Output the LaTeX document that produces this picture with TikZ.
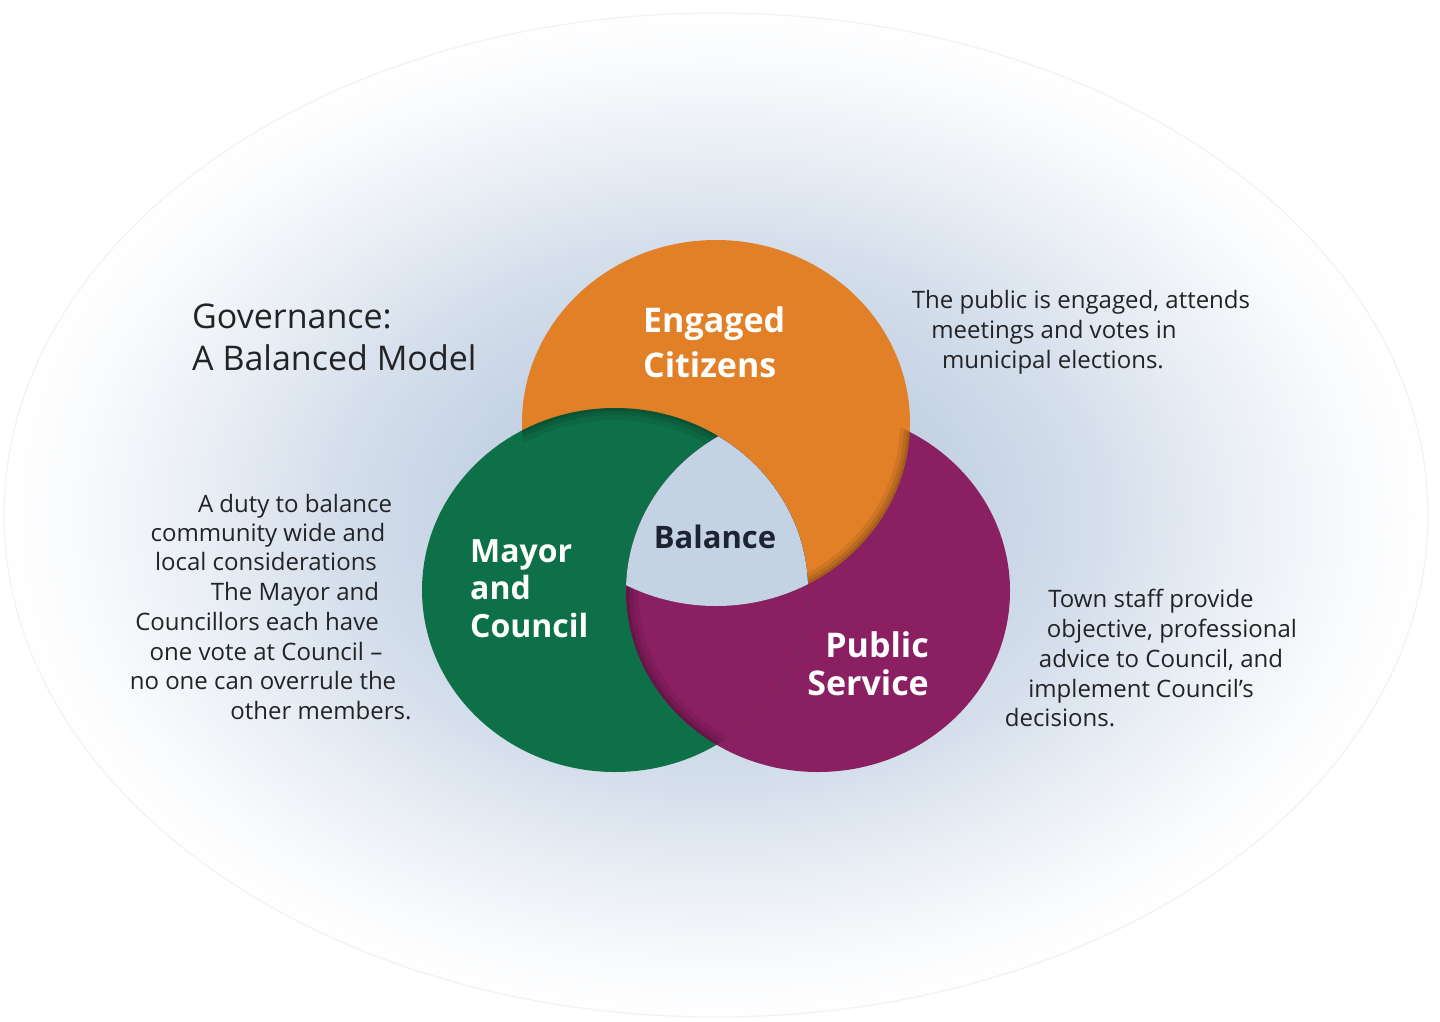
\documentclass[tikz,border=0pt]{standalone}
\usepackage{fontspec}
\setmainfont{Open Sans}
\usepackage{tikz}

\definecolor{citizens}{RGB}{226,128,40}
\definecolor{council}{RGB}{14,112,72}
\definecolor{service}{RGB}{138,31,98}
\definecolor{balance}{RGB}{196,211,227}
\definecolor{glow}{RGB}{192,207,226}
\definecolor{bodytext}{RGB}{35,35,38}
\definecolor{balancetext}{RGB}{30,35,50}
\colorlet{glowA}{glow!94!white}
\colorlet{glowB}{glow!66!white}
\colorlet{glowC}{glow!34!white}
\colorlet{glowD}{glow!8!white}
\pgfdeclareradialshading{bgglow}{\pgfpoint{0bp}{0bp}}{color(0bp)=(glow); color(8bp)=(glowA); color(13.5bp)=(glowB); color(18bp)=(glowC); color(22.5bp)=(glowD); color(25bp)=(white); color(50bp)=(white)}

% the three rings, in pixel coordinates
\def\citizensring{(716,423) ellipse [x radius=194, y radius=183]}
\def\councilring{(615,590) ellipse [x radius=193, y radius=182]}
\def\servicering{(818,591) ellipse [x radius=192, y radius=181]}

\begin{document}
\begin{tikzpicture}[x=1pt,y=-1pt,
  note/.style={inner sep=0pt,anchor=base,text=bodytext,font=\fontsize{24}{30}\selectfont},
  heading/.style={inner sep=0pt,anchor=base west,text=bodytext,font=\fontsize{34}{40}\selectfont},
  ringtext/.style={inner sep=0pt,text=white,font=\bfseries\fontsize{34}{38}\selectfont}]
\useasboundingbox (0,0) rectangle (1440,1021);
\fill[white] (0,0) rectangle (1440,1021);
\shade[shading=bgglow] (716,515) ellipse [x radius=720, y radius=510];
\draw[black!5,line width=1.2] (716,515) ellipse [x radius=712, y radius=502];

% rings: purple, orange, green, then purple again over green
\fill[service] \servicering;
\fill[citizens] \citizensring;
\fill[council] \councilring;
\begin{scope}
\clip \councilring;
\fill[service] \servicering;
\end{scope}

% soft edges where one ring passes over another
\begin{scope}
\clip \councilring; \clip \citizensring;
\foreach \w/\o in {24/.07,14/.09,6/.12}
\draw[line width=\w,black,opacity=\o] \councilring;
\end{scope}
\begin{scope}
\clip \citizensring; \clip \servicering;
\foreach \w/\o in {20/.08,12/.1,5/.12}
\draw[line width=\w,black,opacity=\o] \citizensring;
\end{scope}
\begin{scope}
\clip \servicering; \clip \councilring;
\foreach \w/\o in {24/.07,14/.09,6/.12}
\draw[line width=\w,black,opacity=\o] \servicering;
\end{scope}

% balance in the middle
\begin{scope}
\clip \councilring; \clip \citizensring;
\fill[balance] \servicering;
\end{scope}

\node[ringtext,anchor=base west] (ec1) at (643,332) {Engaged};
\node[ringtext,anchor=base west] (ec2) at (643,377) {Citizens};
\node[ringtext,anchor=base west,font=\bfseries\fontsize{32}{38}\selectfont] (mc1) at (470,562) {Mayor};
\node[ringtext,anchor=base west,font=\bfseries\fontsize{32}{38}\selectfont] (mc2) at (470,599) {and};
\node[ringtext,anchor=base west,font=\bfseries\fontsize{32}{38}\selectfont] (mc3) at (470,637) {Council};
\node[ringtext,anchor=base east] (ps1) at (929,657) {Public};
\node[ringtext,anchor=base east] (ps2) at (929,695) {Service};
\node[ringtext,anchor=base,text=balancetext,font=\bfseries\fontsize{31}{36}\selectfont] (bal) at (715,548) {Balance};

\node[heading] (gov1) at (192,328) {Governance:};
\node[heading] (gov2) at (192,370) {A Balanced Model};

\node[note] (duty1) at (295,512) {A duty to balance};
\node[note] (duty2) at (268,541) {community wide and};
\node[note] (duty3) at (266,570) {local considerations};
\node[note] (duty4) at (295,600) {The Mayor and};
\node[note] (duty5) at (257,630) {Councillors each have};
\node[note] (duty6) at (266,660) {one vote at Council –};
\node[note] (duty7) at (263,689) {no one can overrule the};
\node[note] (duty8) at (321,719) {other members.};

\node[note] (pub1) at (1081,308) {The public is engaged, attends};
\node[note] (pub2) at (1054,338) {meetings and votes in};
\node[note] (pub3) at (1053,368) {municipal elections.};

\node[note] (staff1) at (1151,607) {Town staff provide};
\node[note] (staff2) at (1172,637) {objective, professional};
\node[note] (staff3) at (1161,667) {advice to Council, and};
\node[note] (staff4) at (1141,697) {implement Council’s};
\node[note] (staff5) at (1060,726) {decisions.};
\end{tikzpicture}
\end{document}
